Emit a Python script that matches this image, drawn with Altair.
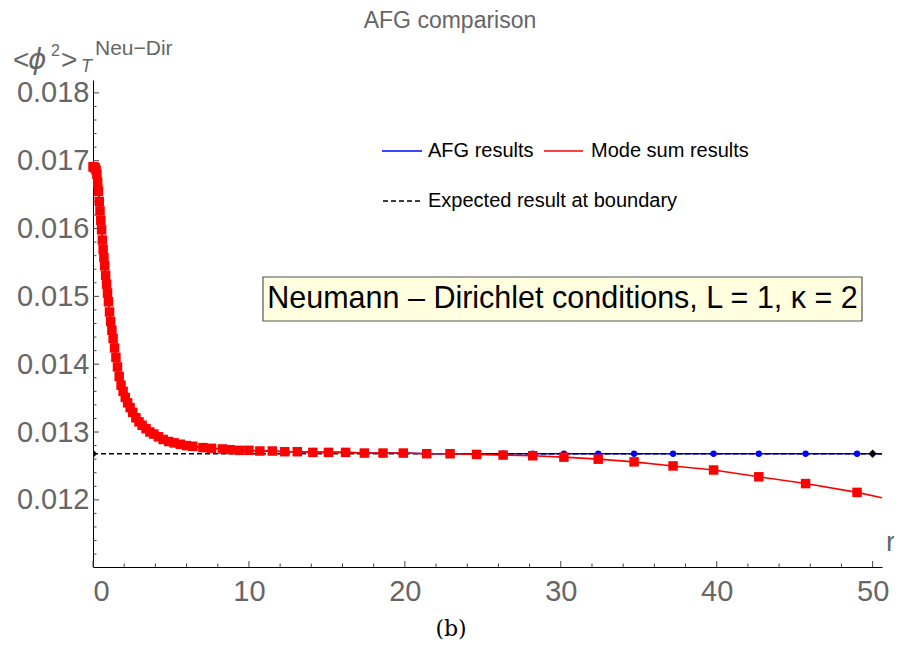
import altair as alt
import pandas as pd

# ---------------- data ----------------
r_red = [0.0, 0.05, 0.10, 0.15, 0.20, 0.25, 0.30, 0.35, 0.40, 0.45, 0.50, 0.55, 0.60, 0.65,
         0.70, 0.75, 0.81, 0.87, 0.93, 0.99, 1.06, 1.13, 1.21, 1.29, 1.38, 1.47, 1.57, 1.68,
         1.80, 1.93, 2.07, 2.22, 2.38, 2.55, 2.75, 2.95, 3.15, 3.40, 3.65, 3.90, 4.20, 4.50,
         4.85, 5.20, 5.60, 6.00, 6.40, 7.05, 7.60, 8.30, 8.80, 9.40, 10.0, 10.7, 11.5, 12.3,
         13.1, 14.1, 15.1, 16.2, 17.4, 18.6, 19.9, 21.4, 22.9, 24.6, 26.3, 28.2, 30.2, 32.4,
         34.7, 37.2, 39.8, 42.7, 45.7, 49.0]
v_red = [0.01691, 0.01691, 0.01690, 0.01689, 0.01686, 0.01680, 0.01668, 0.01655, 0.01640,
         0.01626, 0.01612, 0.01598, 0.01583, 0.01569, 0.01557, 0.01545, 0.01531, 0.01518,
         0.01505, 0.01492, 0.01477, 0.01463, 0.01450, 0.01438, 0.01424, 0.01410, 0.01396,
         0.01382, 0.01369, 0.01360, 0.01351, 0.01343, 0.01336, 0.01329, 0.01321, 0.01315,
         0.01310, 0.01305, 0.01300, 0.01297, 0.01293, 0.01289, 0.01286, 0.01284, 0.01282,
         0.01280, 0.01279, 0.01277, 0.01276, 0.01275, 0.01274, 0.01273, 0.01273, 0.01272,
         0.01272, 0.01271, 0.01271, 0.01270, 0.01270, 0.01270, 0.01269, 0.01269, 0.01269,
         0.01268, 0.01268, 0.01267, 0.01266, 0.01265, 0.01263, 0.01260, 0.01256, 0.01250,
         0.01244, 0.01234, 0.01224, 0.01211]
# red curve continues to the right edge of the plot
r_red_end = [50.6]
v_red_end = [0.01203]

# AFG results (coincide with the mode sum for small r, flat at large r)
r_blue = r_red
v_blue = v_red[:65] + [0.01268, 0.01268, 0.01268, 0.01268, 0.01268, 0.01268,
                       0.01268, 0.01268, 0.01268, 0.01268, 0.01268]
r_blue_end = [50.6]
v_blue_end = [0.01268]

# expected result at the boundary
r_exp = [0.0, 50.6]
v_exp = [0.01268, 0.01268]
r_exp_pts = [0.0, 50.0]
v_exp_pts = [0.01268, 0.01268]

x_major = [0, 10, 20, 30, 40, 50]
x_minor = [v for v in range(2, 51, 2) if v % 10 != 0]
y_major = [0.012, 0.013, 0.014, 0.015, 0.016, 0.017, 0.018]
y_minor = [0.0112, 0.0114, 0.0116, 0.0118, 0.0122, 0.0124, 0.0126, 0.0128, 0.0132, 0.0134,
           0.0136, 0.0138, 0.0142, 0.0144, 0.0146, 0.0148, 0.0152, 0.0154, 0.0156, 0.0158,
           0.0162, 0.0164, 0.0166, 0.0168, 0.0172, 0.0174, 0.0176, 0.0178]

X_DOMAIN = [0, 50.6]
Y_DOMAIN = [0.01101, 0.01819]
W, H = 789, 487

FONT = "Liberation Sans"
GRAY = "#666666"

xs = alt.Scale(domain=X_DOMAIN, nice=False, zero=False)
ys = alt.Scale(domain=Y_DOMAIN, nice=False, zero=False)
xax = alt.Axis(values=x_major, ticks=False, grid=False, labelFontSize=29, labelColor=GRAY,
               labelFont=FONT, domainColor="black", labelPadding=10, title=None,
               labelOverlap=False)
yax = alt.Axis(values=y_major, ticks=False, grid=False, labelFontSize=29, labelColor=GRAY,
               labelFont=FONT, domainColor="black", labelPadding=4, format=".3f",
               title=None, labelOverlap=False)


def X(f):
    return alt.X(f, scale=xs, axis=xax)


def Y(f):
    return alt.Y(f, scale=ys, axis=yax)


red_df = pd.DataFrame({"r": r_red + r_red_end, "v": v_red + v_red_end})
red_pts = pd.DataFrame({"r": r_red, "v": v_red})
blue_df = pd.DataFrame({"r": r_blue + r_blue_end, "v": v_blue + v_blue_end})
blue_pts = pd.DataFrame({"r": r_blue, "v": v_blue})
exp_df = pd.DataFrame({"r": r_exp, "v": v_exp})
exp_pts = pd.DataFrame({"r": r_exp_pts, "v": v_exp_pts})

blue_line = alt.Chart(blue_df).mark_line(color="#0000ff", strokeWidth=1.6).encode(x=X("r:Q"), y=Y("v:Q"))
exp_line = alt.Chart(exp_df).mark_line(color="black", strokeWidth=1.7, strokeDash=[5, 3]).encode(
    x=X("r:Q"), y=Y("v:Q"))
blue_dots = alt.Chart(blue_pts).mark_point(shape="circle", filled=True, size=40, color="#0000ff",
                                           opacity=1).encode(x=X("r:Q"), y=Y("v:Q"))
exp_dots = alt.Chart(exp_pts).mark_point(shape="diamond", filled=True, size=70, color="black",
                                         opacity=1, clip=True).encode(x=X("r:Q"), y=Y("v:Q"))
red_line = alt.Chart(red_df).mark_line(color="#ff0000", strokeWidth=1.6).encode(x=X("r:Q"), y=Y("v:Q"))
red_sq = alt.Chart(red_pts).mark_point(shape="square", filled=True, size=90, color="#ff0000",
                                       opacity=1).encode(x=X("r:Q"), y=Y("v:Q"))

# tick marks (pointing into the plot)
ymaj = alt.Chart(pd.DataFrame({"t": y_major})).mark_rule(color="#444", strokeWidth=1).encode(
    y=Y("t:Q"), x=alt.value(0), x2=alt.value(6))
ymin = alt.Chart(pd.DataFrame({"t": y_minor})).mark_rule(color="#444", strokeWidth=1).encode(
    y=Y("t:Q"), x=alt.value(0), x2=alt.value(3.5))
xmaj = alt.Chart(pd.DataFrame({"t": x_major})).mark_rule(color="#444", strokeWidth=1).encode(
    x=X("t:Q"), y=alt.value(H), y2=alt.value(H - 6))
xmin = alt.Chart(pd.DataFrame({"t": x_minor})).mark_rule(color="#444", strokeWidth=1).encode(
    x=X("t:Q"), y=alt.value(H), y2=alt.value(H - 3.5))


def txt(s, x, y, size, color="black", align="left", baseline="middle", style="normal",
        font=FONT):
    return alt.Chart(pd.DataFrame({"s": [s]})).mark_text(
        align=align, baseline=baseline, fontSize=size, color=color, font=font,
        fontStyle=style, clip=False).encode(text="s:N", x=alt.value(x), y=alt.value(y))


def seg(x1, x2, y, color, dash=None):
    kw = dict(color=color, strokeWidth=1.6)
    if dash:
        kw["strokeDash"] = dash
    return alt.Chart(pd.DataFrame({"a": [0]})).mark_rule(**kw).encode(
        x=alt.value(x1), x2=alt.value(x2), y=alt.value(y))


title = txt("AFG comparison", 357, -59, 23, GRAY, align="center")
ylab = [
    txt("<", -80, -11, 28, GRAY, baseline="alphabetic"),
    txt("\u03d5", -65, -11, 28, GRAY, baseline="alphabetic", style="italic",
        font="DejaVu Sans"),
    txt("2", -42, -24, 16, GRAY, baseline="alphabetic"),
    txt(">", -32, -11, 28, GRAY, baseline="alphabetic"),
    txt("T", -12, -8, 18, GRAY, baseline="alphabetic", style="italic"),
    txt("Neu\u2212Dir", 2, -25, 21, GRAY, baseline="alphabetic"),
]
rlab = txt("r", 793, 463, 28, GRAY, align="left")
blab = txt("(b)", 358, 549, 22, "black", align="center", font="DejaVu Serif")

legend = [
    seg(289, 329, 71, "#0000ff"),
    txt("AFG results", 335, 71, 20),
    seg(451, 490, 71, "#ff0000"),
    txt("Mode sum results", 498, 71, 20),
    seg(290, 327, 121, "black", [5, 3]),
    txt("Expected result at boundary", 335, 121, 20),
]

box = alt.Chart(pd.DataFrame({"a": [0]})).mark_rect(
    fill="#ffffe0", stroke="#555555", strokeWidth=1.2).encode(
    x=alt.value(170), x2=alt.value(769), y=alt.value(197), y2=alt.value(241))
box_txt = txt("Neumann \u2013 Dirichlet conditions, L = 1, \u03ba = 2", 469.5, 219, 30.5,
              align="center")

chart = alt.layer(
    ymin, ymaj, xmin, xmaj,
    blue_line, exp_line, blue_dots, exp_dots, red_line, red_sq,
    title, *ylab, rlab, blab, *legend, box, box_txt,
).properties(
    width=W, height=H,
    autosize=alt.AutoSizeParams(type="none"),
    padding={"left": 85, "top": 72, "right": 12, "bottom": 77},
).configure_view(stroke=None).configure_axis(domainWidth=1)

chart.save("out.html", embed_options={"renderer": "svg", "actions": False})
